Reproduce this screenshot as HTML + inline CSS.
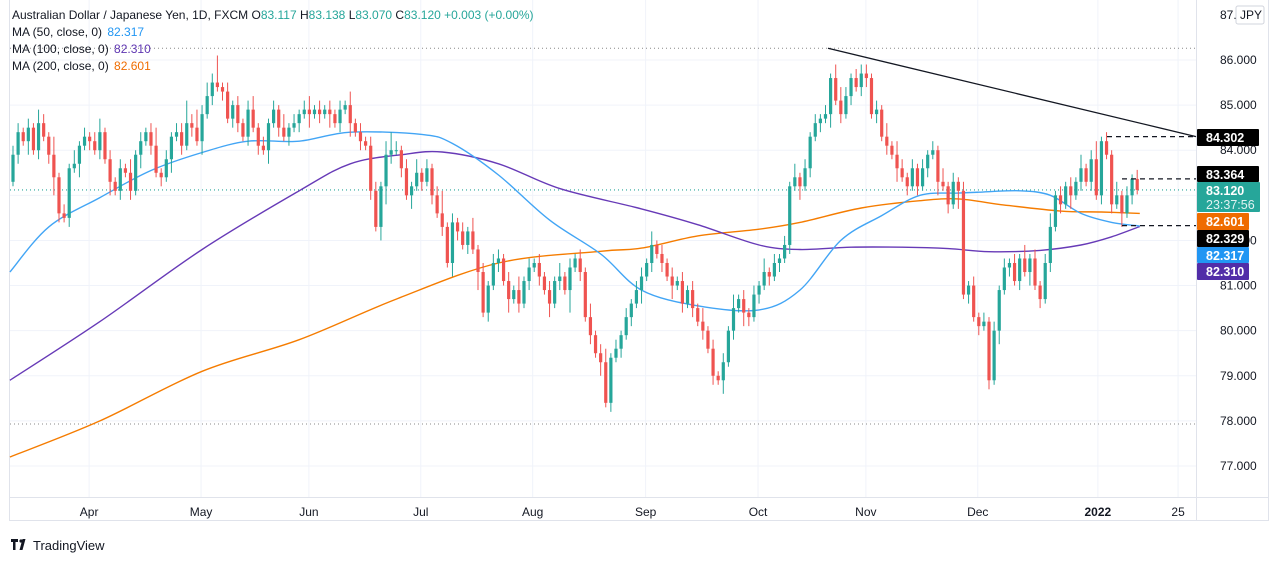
<!DOCTYPE html>
<html><head><meta charset="utf-8">
<style>
html,body{margin:0;padding:0;background:#fff;}
body{width:1274px;height:562px;overflow:hidden;font-family:"Liberation Sans",sans-serif;}
svg text{font-family:"Liberation Sans",sans-serif;}
</style></head>
<body>
<svg id="chart" width="1274" height="562" xmlns="http://www.w3.org/2000/svg">
<g id="grid"></g>
<g id="refs"></g>
<g id="mas"></g>
<g id="candles"></g>
<g id="annot"></g>
<g id="yaxis"></g>
<g id="xaxis"></g>
<g font-size="12">
 <text x="12" y="19" fill="#131722">Australian Dollar / Japanese Yen, 1D, FXCM <tspan fill="#131722">O</tspan><tspan fill="#26a69a">83.117</tspan> <tspan fill="#131722">H</tspan><tspan fill="#26a69a">83.138</tspan> <tspan fill="#131722">L</tspan><tspan fill="#26a69a">83.070</tspan> <tspan fill="#131722">C</tspan><tspan fill="#26a69a">83.120 +0.003 (+0.00%)</tspan></text>
 <text x="12" y="36" fill="#131722">MA (50, close, 0) <tspan fill="#2196f3" dx="2">82.317</tspan></text>
 <text x="12" y="53" fill="#131722">MA (100, close, 0) <tspan fill="#5e35b1" dx="2">82.310</tspan></text>
 <text x="12" y="70" fill="#131722">MA (200, close, 0) <tspan fill="#ef6c00" dx="2">82.601</tspan></text>
</g>
<g>
 <path d="M11 539h7v3h-2.5v8h-2.5v-8h-2z M19.5 550l3-11h3l-3 11z" fill="#131722"/>
 <circle cx="21" cy="541" r="1.6" fill="#131722"/>
 <text x="33" y="550" font-size="13" fill="#131722">TradingView</text>
</g>
</svg>
<script>
const closes = [
83.9,84.4,84.2,84.5,84.0,84.6,84.3,83.9,83.4,82.6,82.5,83.6,83.7,84.1,84.3,
84.2,84.0,84.4,83.8,83.3,83.1,83.6,83.5,83.1,83.9,84.2,84.4,84.1,83.5,83.4,83.8,84.3,84.4,84.1,84.6,84.5,84.2,
84.8,85.2,85.5,85.4,85.3,84.7,85.0,84.6,84.3,84.9,84.5,84.1,84.0,84.6,84.9,84.5,84.3,84.5,84.6,84.8,84.9,
84.8,84.9,84.8,84.9,84.8,84.6,84.9,85.0,84.6,84.4,84.2,84.1,83.1,82.3,83.2,83.9,84.0,84.0,83.6,83.0,83.2,83.5,
83.3,83.6,83.0,82.6,82.3,81.5,82.4,82.2,81.9,82.2,81.8,81.3,80.4,81.0,81.5,81.6,81.1,80.7,80.9,80.6,81.1,81.4,
81.5,81.2,80.9,80.6,81.1,81.2,80.9,81.4,81.6,81.3,80.3,79.9,79.5,79.3,78.4,79.4,79.6,79.9,80.3,80.6,80.9,81.2,
81.5,81.9,81.7,81.5,81.2,81.0,81.1,80.6,80.9,80.5,80.2,80.0,79.6,79.0,78.9,79.3,80.0,80.5,80.7,80.4,80.3,80.8,
81.0,81.3,81.2,81.5,81.6,81.9,83.2,83.4,83.2,83.6,84.3,84.6,84.7,84.8,85.6,85.1,84.8,85.2,85.6,85.4,85.7,
85.6,84.8,84.9,84.3,84.1,83.9,83.6,83.4,83.2,83.6,83.2,83.6,83.9,84.0,83.3,83.2,82.8,83.3,83.1,80.8,81.0,80.3,
80.1,80.2,78.9,80.0,80.9,81.4,81.5,81.1,81.6,81.3,81.6,81.0,80.7,81.5,82.3,83.0,82.8,83.2,83.0,83.3,83.6,83.3,83.8,
83.0,84.2,83.9,82.8,83.0,82.6,83.0,83.364,83.12
];
const firstOpen = 83.3;
const wickUp = "2212132141213121231212131212412122524232612121231212131212312121213121221342121312125121213121221213121212131212131231212122131212121213121213121213121213121212133212221213132121212131212121212121213121231212131241213121232121";
const wickDn = "1213121242121312121312121312121312121312121221212131212121312131213121213421213121212132121412121312121213121512121312121213121213121212121312132121212121312121312121221212131212121312141212121312121312121213121212121312121";
const yTicks = [86,85,84,83,82,81,80,79,78,77];
const monthLabels = ["Apr","May","Jun","Jul","Aug","Sep","Oct","Nov","Dec","2022","25"];
const monthIdx = [14.9,36.8,57.9,79.8,101.7,123.8,145.8,166.9,188.8,212.3,228];
const ma50Idx = [-0.6,7,17,27,37,46,56,66,80,86,95,105,115,123,134,146,154,162,170,177.5,185,189,197,203,209,215,220.5];
const ma50Val = [81.3,82.3,82.95,83.55,83.95,84.2,84.2,84.4,84.35,84.15,83.45,82.45,81.7,80.9,80.55,80.46,80.9,82.0,82.55,83.0,83.05,83.07,83.1,83.0,82.6,82.4,82.32];
const ma100Idx = [-0.6,17,37,56,66,76,84,95,107,123,134,146,154,164,174,183,191,201,209,215,220.5];
const ma100Val = [78.9,80.2,81.8,83.1,83.7,83.9,83.96,83.7,83.15,82.7,82.35,81.9,81.8,81.85,81.85,81.82,81.75,81.78,81.9,82.08,82.31];
const ma200Idx = [-0.6,17,37,56,75,95,115,123,134,146,154,166,177.5,185,193,205,213,220.5];
const ma200Val = [77.2,78.0,79.1,79.8,80.7,81.5,81.76,81.83,82.1,82.25,82.4,82.72,82.88,82.92,82.8,82.65,82.63,82.6];

const NS="http://www.w3.org/2000/svg";
function y(p){return 60+(86-p)*45.11;}
function x(i){return 13+i*5.11;}
function mk(tag,attrs,parent){const e=document.createElementNS(NS,tag);for(const k in attrs)e.setAttribute(k,attrs[k]);parent.appendChild(e);return e;}
const G=id=>document.getElementById(id);

const grid=G('grid');
yTicks.forEach(t=>{const l=mk('line',{x1:10,x2:1196,y1:y(t),y2:y(t),stroke:'#f0f3fa','stroke-width':1},grid);

});
monthIdx.forEach(m=>{if(x(m)<1196){const l=mk('line',{x1:x(m),x2:x(m),y1:0,y2:497,stroke:'#f0f3fa'},grid);

}});
mk('line',{x1:1196.5,x2:1196.5,y1:0,y2:520,stroke:'#e0e3eb'},grid);
mk('line',{x1:10,x2:1268,y1:497.5,y2:497.5,stroke:'#e0e3eb'},grid);
mk('line',{x1:9.5,x2:9.5,y1:0,y2:520,stroke:'#e0e3eb'},grid);
mk('line',{x1:1268.5,x2:1268.5,y1:0,y2:520,stroke:'#e0e3eb'},grid);
mk('line',{x1:9,x2:1269,y1:520.5,y2:520.5,stroke:'#e0e3eb'},grid);

const refs=G('refs');
const last=closes[closes.length-1];
const highs=[],lows=[],opens=[];
closes.forEach((c,i)=>{const o=i?closes[i-1]:firstOpen;opens.push(o);
 highs.push(Math.max(o,c)+(+(wickUp[i]||1))/10);
 lows.push(Math.min(o,c)-(+(wickDn[i]||1))/10);});
let r=mk('line',{x1:10,x2:1196,y1:y(last),y2:y(last),stroke:'#26a69a','stroke-dasharray':'1 3','stroke-width':1.2},refs);


r=mk('line',{x1:10,x2:1196,y1:y(86.26),y2:y(86.26),stroke:'#888','stroke-dasharray':'1 3'},refs);


r=mk('line',{x1:10,x2:1196,y1:y(77.93),y2:y(77.93),stroke:'#888','stroke-dasharray':'1 3'},refs);



const mas=G('mas');
function ma(idx,val,color,name){
 const P=idx.map((k,j)=>[x(k),y(val[j])]);
 let d='M'+P[0][0].toFixed(1)+','+P[0][1].toFixed(1);
 for(let i=0;i<P.length-1;i++){
  const p0=P[Math.max(0,i-1)],p1=P[i],p2=P[i+1],p3=P[Math.min(P.length-1,i+2)];
  const c1=[p1[0]+(p2[0]-p0[0])/6,p1[1]+(p2[1]-p0[1])/6];
  const c2=[p2[0]-(p3[0]-p1[0])/6,p2[1]-(p3[1]-p1[1])/6];
  d+=' C'+c1[0].toFixed(1)+','+c1[1].toFixed(1)+' '+c2[0].toFixed(1)+','+c2[1].toFixed(1)+' '+p2[0].toFixed(1)+','+p2[1].toFixed(1);
 }
 const p=mk('path',{d:d,fill:'none',stroke:color,'stroke-width':1.4,'stroke-linejoin':'round'},mas);
 
 }
ma(ma200Idx,ma200Val,'#f57c00','ma200-line');
ma(ma100Idx,ma100Val,'#673ab7','ma100-line');
ma(ma50Idx,ma50Val,'#42a5f5','ma50-line');

const cg=G('candles');
closes.forEach((c,i)=>{const o=opens[i];const col=c>=o?'#26a69a':'#ef5350';const cx=x(i);
 const g=mk('g',{},cg);
 
 
 mk('line',{x1:cx,x2:cx,y1:y(highs[i]),y2:y(lows[i]),stroke:col,'stroke-width':1},g);
 const top=y(Math.max(o,c)),bh=Math.max(1,Math.abs(y(o)-y(c)));
 mk('rect',{x:cx-1.6,y:top,width:3.2,height:bh,fill:col},g);});

const an=G('annot');
let a=mk('line',{x1:828,y1:y(86.26),x2:1196,y2:y(84.302),stroke:'#131722','stroke-width':1.3},an);


[[84.302,1107],[83.364,1122],[82.329,1122]].forEach(v=>{const d=mk('line',{x1:v[1],x2:1196,y1:y(v[0]),y2:y(v[0]),stroke:'#131722','stroke-dasharray':'5 4','stroke-width':1.2},an);
 
 });

const ya=G('yaxis');
yTicks.concat([87]).forEach(t=>{const tx=mk('text',{x:1220,y:y(t)+4,'font-size':12,fill:'#131722'},ya);tx.textContent=t.toFixed(3);
 
 });
let b=mk('rect',{x:1236,y:6,width:28,height:18,rx:2,fill:'#fff',stroke:'#d1d4dc'},ya);


let bt=mk('text',{x:1240,y:19,'font-size':12,fill:'#131722'},ya);bt.textContent='JPY';
const boxes=[[129,17,'#000','84.302',62],[166,16,'#000','83.364',62],[182,30,'#26a69a','83.120',63],[213,17,'#ef6c00','82.601',52],[230,17,'#000','82.329',52],[247,16,'#2196f3','82.317',52],[263,17,'#512da8','82.310',52]];
boxes.forEach(bx=>{const g=mk('g',{},ya);
 
 
 mk('rect',{x:1197,y:bx[0],width:bx[4],height:bx[1],rx:1,fill:bx[2]},g);
 const t=mk('text',{x:1206,y:bx[0]+13,'font-size':12.5,fill:'#fff','font-weight':'bold'},g);t.textContent=bx[3];
 if(bx[3]==='83.120'){const t2=mk('text',{x:1206,y:bx[0]+27,'font-size':12.5,fill:'#e0f2f1'},g);t2.textContent='23:37:56';}});

const xa=G('xaxis');
monthLabels.forEach((m,j)=>{const t=mk('text',{x:x(monthIdx[j]),y:516,'font-size':12,fill:'#131722','text-anchor':'middle','font-weight':m==='2022'?'bold':'normal'},xa);t.textContent=m;
 
 });
</script>
</body></html>
